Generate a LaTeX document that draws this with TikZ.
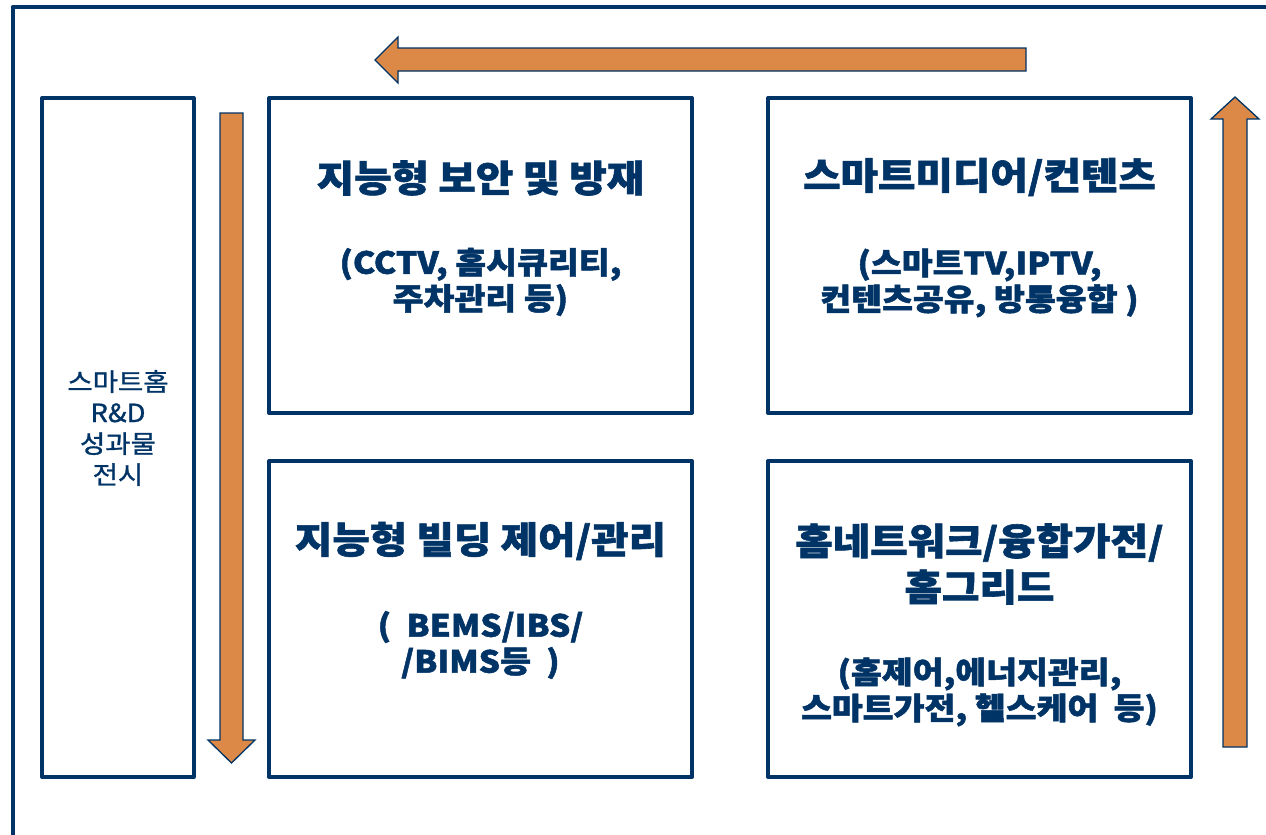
\documentclass[tikz,border=0pt]{standalone}
\usepackage{fontspec}
\setmainfont{Noto Sans CJK KR}[FakeStretch=1.1,BoldFeatures={FakeBold=1.6}]
\newfontfamily\sidefont{Noto Sans CJK KR}[FakeStretch=1.1,FakeBold=1.2]
\definecolor{navy}{HTML}{003366}
\definecolor{orng}{HTML}{DC8846}
\tikzset{
  frame/.style={draw=navy,line width=4pt,line join=round},
  panel/.style={draw=navy,line width=4pt,line join=round,fill=white},
  blockarrow/.style={fill=orng,draw=navy,line width=1.3pt,line join=miter},
  titletext/.style={text=navy,font=\bfseries\fontsize{37}{46}\selectfont,align=center,inner sep=0pt},
  subtext/.style={text=navy,font=\bfseries\fontsize{30.5}{36}\selectfont,align=center,inner sep=0pt},
  sidetext/.style={text=navy,font=\sidefont\fontsize{25}{31}\selectfont,align=center,inner sep=0pt}
}
\begin{document}
\begin{tikzpicture}[x=1pt,y=-1pt]
\useasboundingbox (0,0) rectangle (1266,835);
% outer frame
\draw[frame] (12.5,840) -- (12.5,7) -- (1270,7);
% panels
\draw[panel] (42,98) rectangle (193.5,777);
\draw[panel] (269,98) rectangle (692,413);
\draw[panel] (269,461) rectangle (692,777);
\draw[panel] (768,98) rectangle (1191,413);
\draw[panel] (768,461) rectangle (1191,777);
% block arrows
\draw[blockarrow] (1026,48) -- (398,48) -- (398,37) -- (375,60) -- (398,83) -- (398,71) -- (1026,71) -- cycle;
\draw[blockarrow] (220,113) -- (243,113) -- (243,740) -- (255,740) -- (231.5,763) -- (208,740) -- (220,740) -- cycle;
\draw[blockarrow] (1223,747) -- (1223,119) -- (1211,119) -- (1235,97) -- (1259,119) -- (1247,119) -- (1247,747) -- cycle;
% texts
\node[sidetext] (side) at (118,428) {스마트홈\\R\&D\\성과물\\전시};
\node[titletext] (t1) at (480.5,178) {지능형 보안 및 방재};
\node[subtext] (s1) at (480.5,282) {(CCTV, 홈시큐리티,\\주차관리 등)};
\node[titletext] (t2) at (979.5,177) {스마트미디어/컨텐츠};
\node[subtext] (s2) at (979.5,283) {(스마트TV,IPTV,\\컨텐츠공유, 방통융합 )};
\node[titletext] (t3) at (480.5,541) {지능형 빌딩 제어/관리};
\node[subtext] (s3) at (480.5,645) {(\ \ BEMS/IBS/\\/BIMS등\ \ )};
\node[titletext] (t4) at (979.5,564) {홈네트워크/융합가전/\\홈그리드};
\node[subtext] (s4) at (979.5,692) {(홈제어,에너지관리,\\스마트가전, 헬스케어\ \ 등)};
\end{tikzpicture}
\end{document}
